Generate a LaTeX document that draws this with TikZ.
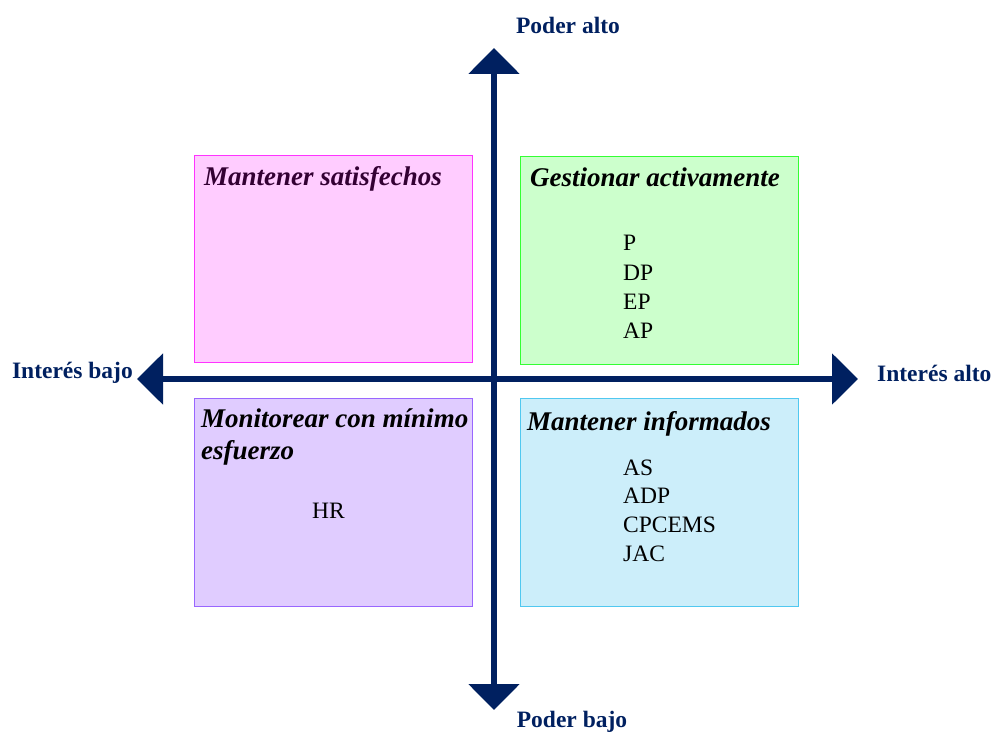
\documentclass[tikz,border=0pt]{standalone}
\usepackage{fontspec}
\setmainfont{Liberation Serif}
\usetikzlibrary{arrows.meta}
\definecolor{axisblue}{RGB}{0,32,96}
\definecolor{pinkfill}{RGB}{255,204,255}
\definecolor{pinkline}{RGB}{255,51,255}
\definecolor{greenfill}{RGB}{204,255,204}
\definecolor{greenline}{RGB}{51,255,51}
\definecolor{violetfill}{RGB}{224,204,255}
\definecolor{violetline}{RGB}{153,102,255}
\definecolor{bluefill}{RGB}{204,238,250}
\definecolor{blueline}{RGB}{80,200,240}
\definecolor{plumtext}{RGB}{51,0,51}
\tikzset{
  quad/.style={draw, line width=1pt, inner sep=0pt, anchor=north west},
  quadtitle/.style={anchor=base west, inner sep=0pt, font=\fontsize{27}{32}\selectfont\bfseries\itshape},
  item/.style={anchor=base west, inner sep=0pt, font=\fontsize{23.5}{29}\selectfont},
  axislabel/.style={inner sep=0pt, text=axisblue, font=\fontsize{23.5}{28}\selectfont\bfseries},
  axisline/.style={draw=axisblue, line width=6pt,
    {Triangle[width=50pt,length=26pt]}-{Triangle[width=50pt,length=26pt]}}
}
\begin{document}
\begin{tikzpicture}[x=1pt,y=-1pt]
\useasboundingbox (0,0) rectangle (993,735);

% quadrant boxes
\node[quad, fill=pinkfill, draw=pinkline, minimum width=278pt, minimum height=207pt] (ms) at (194,155) {};
\node[quad, fill=greenfill, draw=greenline, minimum width=278pt, minimum height=208pt] (ga) at (520,156) {};
\node[quad, fill=violetfill, draw=violetline, minimum width=278pt, minimum height=208pt] (mm) at (194,398) {};
\node[quad, fill=bluefill, draw=blueline, minimum width=278pt, minimum height=208pt] (mi) at (520,398) {};

% quadrant titles
\node[quadtitle, text=plumtext] (tms) at (204,186) {Mantener satisfechos};
\node[quadtitle] (tga) at (530,187) {Gestionar activamente};
\node[quadtitle] (tmm1) at (201,427) {Monitorear con mínimo};
\node[quadtitle] (tmm2) at (201,459) {esfuerzo};
\node[quadtitle] (tmi) at (527,430) {Mantener informados};

% stakeholders in each quadrant
\foreach \t [count=\i from 0] in {P,DP,EP,AP}
  \node[item] (ga-\i) at (623,251+29*\i) {\t};
\foreach \t [count=\i from 0] in {AS,ADP,CPCEMS,JAC}
  \node[item] (mi-\i) at (623,475+28.7*\i) {\t};
\node[item] (mm-0) at (312,518) {HR};

% axes
\coordinate (top) at (494,48);
\coordinate (bottom) at (494,710);
\coordinate (left) at (137,379);
\coordinate (right) at (858,379);
\draw[axisline] (bottom) -- (top);
\draw[axisline] (left) -- (right);

% axis labels
\node[axislabel] (pa) at (568,25) {Poder alto};
\node[axislabel] (pb) at (572,722) {Poder bajo};
\node[axislabel, anchor=east] (ib) at (133,373) {Interés bajo};
\node[axislabel, anchor=west] (ia) at (877,373) {Interés alto};
\end{tikzpicture}
\end{document}
